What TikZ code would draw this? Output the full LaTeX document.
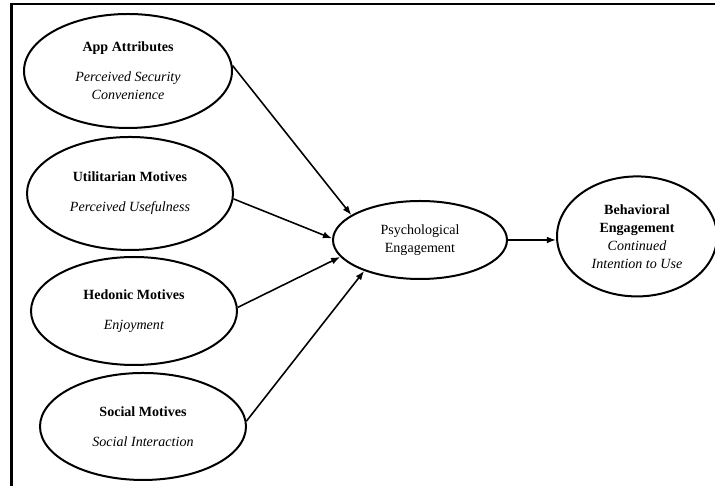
\documentclass[tikz,border=0pt]{standalone}
\usepackage{fontspec}
\setmainfont{Liberation Serif}
\usetikzlibrary{shapes.geometric,arrows.meta}
\begin{document}
\begin{tikzpicture}[
    construct/.style={ellipse, draw, line width=0.070cm, inner sep=0pt, align=center,
        font=\fontsize{14}{18}\selectfont},
    path/.style={line width=0.055cm, -{Latex[length=0.320cm,width=0.240cm]}}]
                    \useasboundingbox (0,0) rectangle (25.025000,17.010000);
                    
                    % Drawing frame
                    \draw [line width=0.080cm] (0.402000,0.000000) -- (0.402000,16.870000) -- (25.025000,16.870000);%
                    
                    % Marking construct App Attributes
                    \node [construct, minimum width=7.280000cm, minimum height=3.990000cm] (app) at (4.480000,14.525000)
                        {\textbf{App Attributes}\\[12pt]\textit{Perceived Security}\\\textit{Convenience}};%
                    
                    % Marking construct Utilitarian Motives
                    \node [construct, minimum width=7.210000cm, minimum height=3.955000cm] (util) at (4.550000,10.238000)
                        {\textbf{Utilitarian Motives}\\[12pt]\textit{Perceived Usefulness}};%
                    
                    % Marking construct Hedonic Motives
                    \node [construct, minimum width=7.210000cm, minimum height=3.780000cm] (hedon) at (4.690000,6.125000)
                        {\textbf{Hedonic Motives}\\[12pt]\textit{Enjoyment}};%
                    
                    % Marking construct Social Motives
                    \node [construct, minimum width=7.210000cm, minimum height=3.745000cm] (social) at (5.005000,2.083000)
                        {\textbf{Social Motives}\\[12pt]\textit{Social Interaction}};%
                    
                    % Marking construct Psychological Engagement
                    \node [construct, minimum width=6.090000cm, minimum height=2.730000cm] (psych) at (14.700000,8.610000)
                        {Psychological\\Engagement};%
                    
                    % Marking construct Behavioral Engagement
                    \node [construct, minimum width=5.600000cm, minimum height=4.200000cm] (behav) at (22.295000,8.735000)
                        {\textbf{Behavioral}\\\textbf{Engagement}\\\textit{Continued}\\\textit{Intention to Use}};%
                    
                    % Drawing paths into Psychological Engagement
                    \draw [path] (app.3) -- (psych.160);%
                    \draw [path] (util.-3) -- (psych.179);%
                    \draw [path] (hedon.2) -- (psych.192);%
                    \draw [path] (social.3) -- (psych.209);%
                    
                    % Drawing path into Behavioral Engagement
                    \draw [path] (psych.east) -- (psych.east -| behav.west);%
                \end{tikzpicture}
\end{document}
